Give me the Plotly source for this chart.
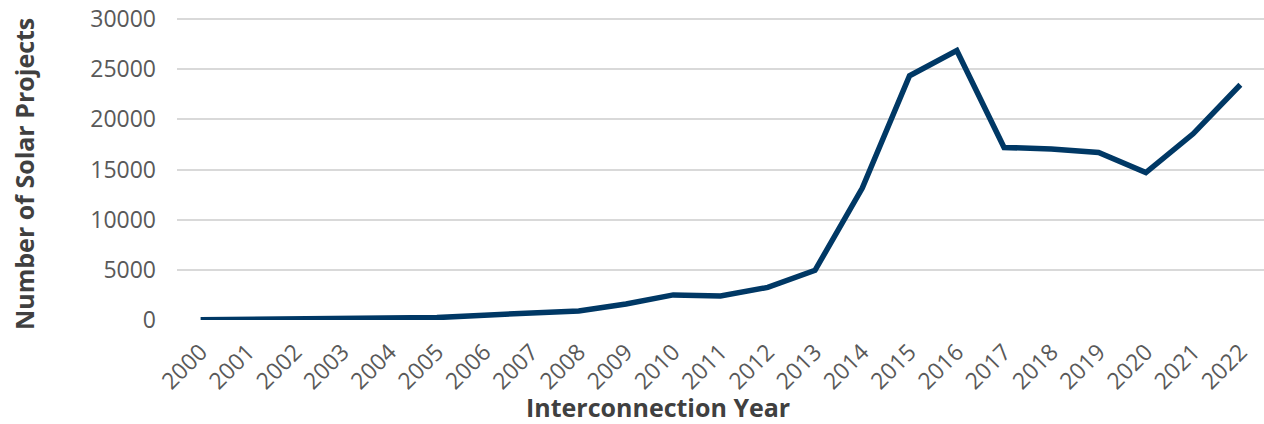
import plotly.graph_objects as go

years = [str(y) for y in range(2000, 2023)]
projects = [30, 60, 180, 190, 220, 240, 480, 680, 900, 1600, 2500, 2400, 3250,
            4950, 13150, 24350, 26850, 17200, 17050, 16700, 14700, 18560, 23450]

y_ticks = [0, 5000, 10000, 15000, 20000, 25000, 30000]

fig = go.Figure()
fig.add_trace(go.Scatter(
    x=years, y=projects, mode="lines",
    line=dict(color="#003865", width=5.5),
    cliponaxis=False, hoverinfo="x+y",
))

title_font = dict(size=25, color="#404040", family="Open Sans")

W, H = 1264, 424
L, T, B = 177, 16, 104          # plot area: x 177..1264, y 16..320
PW, PH = W - L, H - T - B

fig.update_layout(
    width=W, height=H,
    margin=dict(l=L, r=0, t=T, b=B),
    paper_bgcolor="white", plot_bgcolor="white",
    showlegend=False,
    font=dict(family="Open Sans", color="#595959", size=22),
    xaxis=dict(
        type="category", range=[-0.5, 22.5], automargin=False,
        tickangle=-45, showgrid=False, zeroline=False, showline=False,
        ticks="", tickfont=dict(size=23, color="#595959"),
        ticklabelstandoff=13,
    ),
    yaxis=dict(
        range=[0, 30300], tickvals=y_ticks, automargin=False,
        ticktext=[str(v) for v in y_ticks],
        ticklabeloverflow="allow",
        showgrid=True, gridcolor="#d9d9d9", gridwidth=1.5,
        zeroline=False, showline=False, ticks="",
        ticklabelstandoff=20,
        tickfont=dict(size=23, color="#595959"),
    ),
    annotations=[
        dict(text="<b>Interconnection Year</b>", xref="paper", yref="paper",
             x=(658 - L) / PW, y=(H - B - 406.5) / PH,
             xanchor="center", yanchor="middle", borderpad=0,
             showarrow=False, font=title_font),
        dict(text="<b>Number of Solar Projects</b>", xref="paper", yref="paper",
             x=(24 - L) / PW, y=(H - B - 174) / PH,
             xanchor="center", yanchor="middle", borderpad=0,
             textangle=-90, showarrow=False, font=title_font),
    ],
)
fig.write_html("out.html",
               config={"displayModeBar": False},
               post_script="document.body.style.margin='0';document.body.style.padding='0';")
